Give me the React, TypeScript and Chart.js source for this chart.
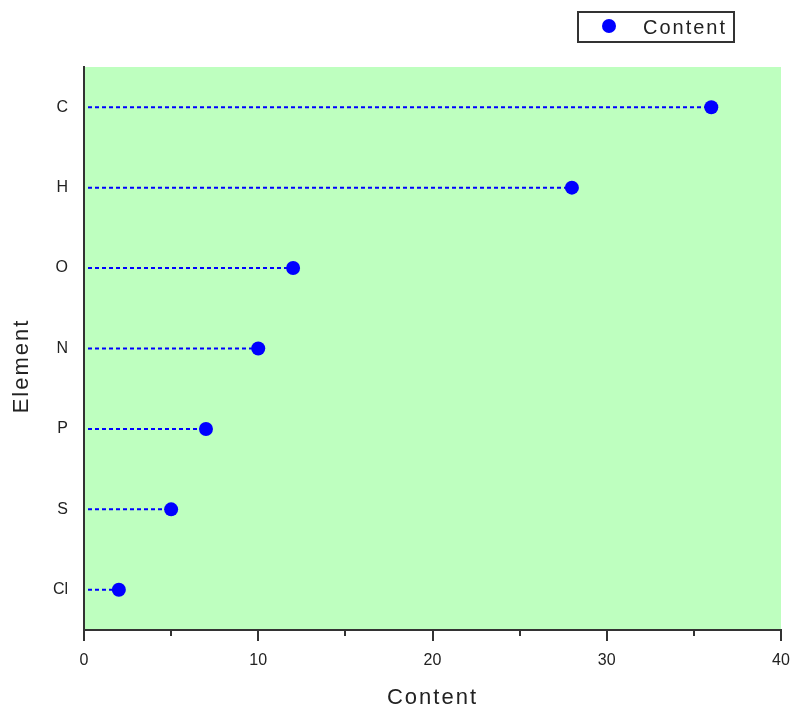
import React, { useEffect, useRef } from "react";
import { Chart, registerables } from "chart.js";

Chart.register(...registerables);

const categories = ["C", "H", "O", "N", "P", "S", "Cl"];
const contentValues = [36, 28, 12, 10, 7, 5, 2];
const xMin = 0;
const xMax = 40;
const majorTicks = [0, 10, 20, 30, 40];
const minorTicks = [5, 15, 25, 35];
const seriesName = "Content";
const xTitle = "Content";
const yTitle = "Element";

const FONT = "'Liberation Sans', Arial, sans-serif";
const AXIS = "#333333";
const BLUE = "#0000ff";
const BG = "rgb(190,255,191)";

const customPlugin = {
  id: "custom",
  beforeDraw(chart: any) {
    const { ctx, chartArea } = chart;
    ctx.save();
    ctx.fillStyle = BG;
    ctx.fillRect(chartArea.left, chartArea.top, chartArea.right - chartArea.left, chartArea.bottom - chartArea.top);
    ctx.restore();
  },
  beforeDatasetsDraw(chart: any) {
    const { ctx } = chart;
    const xs = chart.scales.x;
    const x0 = xs.getPixelForValue(0) + 4;
    const meta = chart.getDatasetMeta(0);
    ctx.save();
    ctx.strokeStyle = BLUE;
    ctx.lineWidth = 2;
    ctx.setLineDash([4, 3]);
    meta.data.forEach((pt: any) => {
      ctx.beginPath();
      ctx.moveTo(x0, pt.y);
      ctx.lineTo(pt.x, pt.y);
      ctx.stroke();
    });
    ctx.restore();
  },
  afterDraw(chart: any) {
    const { ctx, chartArea } = chart;
    const xs = chart.scales.x;
    ctx.save();
    ctx.strokeStyle = AXIS;
    ctx.lineWidth = 2;
    const yb = chartArea.bottom;
    majorTicks.forEach((v) => {
      const px = Math.round(xs.getPixelForValue(v));
      ctx.beginPath();
      ctx.moveTo(px, yb);
      ctx.lineTo(px, yb + 11);
      ctx.stroke();
    });
    minorTicks.forEach((v) => {
      const px = Math.round(xs.getPixelForValue(v));
      ctx.beginPath();
      ctx.moveTo(px, yb);
      ctx.lineTo(px, yb + 6);
      ctx.stroke();
    });

    // axis titles
    ctx.fillStyle = "#222";
    ctx.font = `22px ${FONT}`;
    (ctx as any).letterSpacing = "2px";
    ctx.textAlign = "center";
    ctx.textBaseline = "middle";
    ctx.fillText(xTitle, (chartArea.left + chartArea.right) / 2, 698);
    ctx.save();
    ctx.translate(22, 366);
    ctx.rotate(-Math.PI / 2);
    ctx.fillText(yTitle, 0, 0);
    ctx.restore();

    // legend
    ctx.strokeStyle = AXIS;
    ctx.lineWidth = 2;
    ctx.setLineDash([]);
    ctx.strokeRect(578, 12, 156, 30);
    ctx.fillStyle = BLUE;
    ctx.beginPath();
    ctx.arc(609, 26, 7, 0, Math.PI * 2);
    ctx.fill();
    ctx.fillStyle = "#222";
    ctx.font = `20px ${FONT}`;
    (ctx as any).letterSpacing = "2px";
    ctx.textAlign = "left";
    ctx.fillText(seriesName, 643, 28);
    ctx.restore();
  },
};

export default function App() {
  const ref = useRef<HTMLCanvasElement | null>(null);
  useEffect(() => {
    if (!ref.current) return;
    const chart = new Chart(ref.current, {
      type: "line",
      data: {
        labels: categories,
        datasets: [
          {
            label: seriesName,
            data: contentValues,
            showLine: false,
            pointRadius: 7,
            pointHoverRadius: 7,
            backgroundColor: BLUE,
            borderColor: BLUE,
            borderWidth: 0,
          },
        ],
      },
      options: {
        indexAxis: "y",
        animation: false,
        responsive: false,
        devicePixelRatio: 1,
        layout: { padding: { top: 67, right: 11, left: 0, bottom: 0 } },
        plugins: { legend: { display: false }, tooltip: { enabled: false } },
        scales: {
          x: {
            type: "linear",
            min: xMin,
            max: xMax,
            position: "bottom",
            grid: { display: false, drawTicks: false },
            border: { display: true, color: AXIS, width: 2 },
            ticks: {
              stepSize: 10,
              padding: 21,
              color: "#222",
              font: { family: FONT, size: 16 },
              maxRotation: 0,
            },
            afterFit: (s: any) => {
              s.height = 80;
              s.paddingRight = 0;
              s.paddingLeft = 0;
            },
          },
          y: {
            type: "category",
            offset: true,
            grid: { display: false, drawTicks: false },
            border: { display: true, color: AXIS, width: 2 },
            ticks: {
              padding: 16,
              color: "#222",
              font: { family: FONT, size: 16 },
            },
            afterFit: (s: any) => {
              s.width = 84;
              s.paddingTop = 0;
              s.paddingBottom = 0;
            },
          },
        },
      },
      plugins: [customPlugin],
    } as any);
    return () => chart.destroy();
  }, []);
  return (
    <div style={{ position: "fixed", left: 0, top: 0, width: 792, height: 710, background: "#fff" }}>
      <canvas ref={ref} width={792} height={710} style={{ display: "block" }} />
    </div>
  );
}
